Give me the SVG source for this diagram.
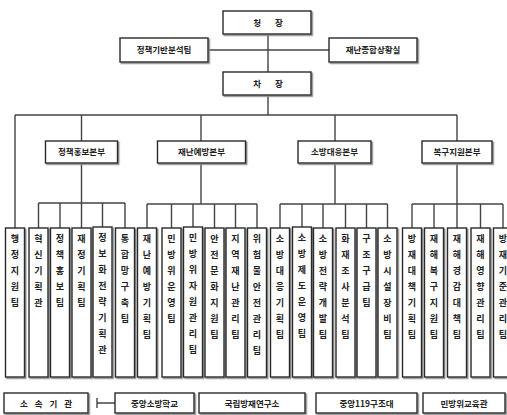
<svg xmlns="http://www.w3.org/2000/svg" width="507" height="415" viewBox="0 0 507 415">
<defs>
<filter id="sh" x="-20%" y="-20%" width="140%" height="140%"><feDropShadow dx="1.3" dy="1.3" stdDeviation="0.4" flood-color="#888"/></filter>
<style>
.b{fill:#fff;stroke:#2a2a2a;stroke-width:1.4;filter:url(#sh)}
.t{font-family:"Noto Sans CJK KR","Noto Sans CJK SC",sans-serif;font-size:8.5px;font-weight:bold;fill:#222;text-anchor:middle}
.v{font-family:"Noto Sans CJK KR","Noto Sans CJK SC",sans-serif;font-size:9px;font-weight:bold;fill:#222;text-anchor:middle}
.c{stroke:#444;stroke-width:1.4;fill:none}
</style>
</defs>
<rect width="507" height="415" fill="#fff"/>
<g id="connectors" class="c">
<path d="M268,34V72M208,50H329M268,95V115M15,115H457M15,115V228M81.5,115V141M201,115V141M335,115V141M457,115V141"/>
<path d="M81.5,163V228M38.5,203H125M38.5,203V228M60,203V228M102.5,203V228M125,203V228"/>
<path d="M201,163V204M147,204H257M147,204V228M171.5,204V228M193,204V228M214.5,204V228M235.5,204V228M257,204V228"/>
<path d="M335,163V204M280,204H387.5M280,204V228M302,204V228M323,204V228M345.5,204V228M366.5,204V228M387.5,204V228"/>
<path d="M457,163V228M412,204H503M412,204V228M434,204V228M480.5,204V228M503,204V228"/>
<path d="M97,403H115M97,398V408"/>
</g>
<g id="chief"><rect class="b" x="223" y="11" width="88" height="23"/><text class="t" x="268" y="26" style="word-spacing:12px">청 장</text></g>
<g id="policy-analysis"><rect class="b" x="120" y="38" width="88" height="24"/><text class="t" x="164" y="53">정책기반분석팀</text></g>
<g id="situation-room"><rect class="b" x="329" y="38" width="88" height="24"/><text class="t" x="373" y="53">재난종합상황실</text></g>
<g id="deputy"><rect class="b" x="223" y="72" width="88" height="23"/><text class="t" x="268" y="87" style="word-spacing:12px">차 장</text></g>
<g id="hq1"><rect class="b" x="45.5" y="141" width="72" height="22"/><text class="t" x="81.5" y="155">정책홍보본부</text></g>
<g id="hq2"><rect class="b" x="157.5" y="141" width="88" height="22"/><text class="t" x="201.5" y="155">재난예방본부</text></g>
<g id="hq3"><rect class="b" x="298" y="141" width="73" height="22"/><text class="t" x="334.5" y="155">소방대응본부</text></g>
<g id="hq4"><rect class="b" x="422" y="141" width="70" height="22"/><text class="t" x="457" y="155">복구지원본부</text></g>
<g id="n0"><rect class="b" x="5.5" y="228" width="19" height="149"/><text class="v"><tspan x="15" y="242">행</tspan><tspan x="15" dy="16">정</tspan><tspan x="15" dy="16">지</tspan><tspan x="15" dy="16">원</tspan><tspan x="15" dy="16">팀</tspan></text></g>
<g id="n1"><rect class="b" x="29" y="228" width="19" height="149"/><text class="v"><tspan x="38.5" y="242">혁</tspan><tspan x="38.5" dy="16">신</tspan><tspan x="38.5" dy="16">기</tspan><tspan x="38.5" dy="16">획</tspan><tspan x="38.5" dy="16">관</tspan></text></g>
<g id="n2"><rect class="b" x="50.5" y="228" width="19" height="149"/><text class="v"><tspan x="60" y="242">정</tspan><tspan x="60" dy="16">책</tspan><tspan x="60" dy="16">홍</tspan><tspan x="60" dy="16">보</tspan><tspan x="60" dy="16">팀</tspan></text></g>
<g id="n3"><rect class="b" x="72" y="228" width="19" height="149"/><text class="v"><tspan x="81.5" y="242">재</tspan><tspan x="81.5" dy="16">정</tspan><tspan x="81.5" dy="16">기</tspan><tspan x="81.5" dy="16">획</tspan><tspan x="81.5" dy="16">팀</tspan></text></g>
<g id="n4"><rect class="b" x="93" y="227" width="19" height="150"/><text class="v"><tspan x="102.5" y="241">정</tspan><tspan x="102.5" dy="16">보</tspan><tspan x="102.5" dy="16">화</tspan><tspan x="102.5" dy="16">전</tspan><tspan x="102.5" dy="16">략</tspan><tspan x="102.5" dy="16">기</tspan><tspan x="102.5" dy="16">획</tspan><tspan x="102.5" dy="16">관</tspan></text></g>
<g id="n5"><rect class="b" x="115.5" y="228" width="19" height="149"/><text class="v"><tspan x="125" y="242">통</tspan><tspan x="125" dy="16">합</tspan><tspan x="125" dy="16">망</tspan><tspan x="125" dy="16">구</tspan><tspan x="125" dy="16">축</tspan><tspan x="125" dy="16">팀</tspan></text></g>
<g id="n6"><rect class="b" x="137.5" y="228" width="19" height="149"/><text class="v"><tspan x="147" y="242">재</tspan><tspan x="147" dy="16">난</tspan><tspan x="147" dy="16">예</tspan><tspan x="147" dy="16">방</tspan><tspan x="147" dy="16">기</tspan><tspan x="147" dy="16">획</tspan><tspan x="147" dy="16">팀</tspan></text></g>
<g id="n7"><rect class="b" x="162" y="228" width="19" height="149"/><text class="v"><tspan x="171.5" y="242">민</tspan><tspan x="171.5" dy="16">방</tspan><tspan x="171.5" dy="16">위</tspan><tspan x="171.5" dy="16">운</tspan><tspan x="171.5" dy="16">영</tspan><tspan x="171.5" dy="16">팀</tspan></text></g>
<g id="n8"><rect class="b" x="183.5" y="227" width="19" height="150"/><text class="v"><tspan x="193" y="241">민</tspan><tspan x="193" dy="16">방</tspan><tspan x="193" dy="16">위</tspan><tspan x="193" dy="16">자</tspan><tspan x="193" dy="16">원</tspan><tspan x="193" dy="16">관</tspan><tspan x="193" dy="16">리</tspan><tspan x="193" dy="16">팀</tspan></text></g>
<g id="n9"><rect class="b" x="205" y="228" width="19" height="149"/><text class="v"><tspan x="214.5" y="242">안</tspan><tspan x="214.5" dy="16">전</tspan><tspan x="214.5" dy="16">문</tspan><tspan x="214.5" dy="16">화</tspan><tspan x="214.5" dy="16">지</tspan><tspan x="214.5" dy="16">원</tspan><tspan x="214.5" dy="16">팀</tspan></text></g>
<g id="n10"><rect class="b" x="226" y="228" width="19" height="149"/><text class="v"><tspan x="235.5" y="242">지</tspan><tspan x="235.5" dy="16">역</tspan><tspan x="235.5" dy="16">재</tspan><tspan x="235.5" dy="16">난</tspan><tspan x="235.5" dy="16">관</tspan><tspan x="235.5" dy="16">리</tspan><tspan x="235.5" dy="16">팀</tspan></text></g>
<g id="n11"><rect class="b" x="247.5" y="228" width="19" height="149"/><text class="v"><tspan x="257" y="242">위</tspan><tspan x="257" dy="16">험</tspan><tspan x="257" dy="16">물</tspan><tspan x="257" dy="16">안</tspan><tspan x="257" dy="16">전</tspan><tspan x="257" dy="16">관</tspan><tspan x="257" dy="16">리</tspan><tspan x="257" dy="16">팀</tspan></text></g>
<g id="n12"><rect class="b" x="270.5" y="228" width="19" height="149"/><text class="v"><tspan x="280" y="242">소</tspan><tspan x="280" dy="16">방</tspan><tspan x="280" dy="16">대</tspan><tspan x="280" dy="16">응</tspan><tspan x="280" dy="16">기</tspan><tspan x="280" dy="16">획</tspan><tspan x="280" dy="16">팀</tspan></text></g>
<g id="n13"><rect class="b" x="292.5" y="227" width="19" height="150"/><text class="v"><tspan x="302" y="241">소</tspan><tspan x="302" dy="16">방</tspan><tspan x="302" dy="16">제</tspan><tspan x="302" dy="16">도</tspan><tspan x="302" dy="16">운</tspan><tspan x="302" dy="16">영</tspan><tspan x="302" dy="16">팀</tspan></text></g>
<g id="n14"><rect class="b" x="313.5" y="228" width="19" height="149"/><text class="v"><tspan x="323" y="242">소</tspan><tspan x="323" dy="16">방</tspan><tspan x="323" dy="16">전</tspan><tspan x="323" dy="16">략</tspan><tspan x="323" dy="16">개</tspan><tspan x="323" dy="16">발</tspan><tspan x="323" dy="16">팀</tspan></text></g>
<g id="n15"><rect class="b" x="336" y="228" width="19" height="149"/><text class="v"><tspan x="345.5" y="242">화</tspan><tspan x="345.5" dy="16">재</tspan><tspan x="345.5" dy="16">조</tspan><tspan x="345.5" dy="16">사</tspan><tspan x="345.5" dy="16">분</tspan><tspan x="345.5" dy="16">석</tspan><tspan x="345.5" dy="16">팀</tspan></text></g>
<g id="n16"><rect class="b" x="357" y="228" width="19" height="149"/><text class="v"><tspan x="366.5" y="242">구</tspan><tspan x="366.5" dy="16">조</tspan><tspan x="366.5" dy="16">구</tspan><tspan x="366.5" dy="16">급</tspan><tspan x="366.5" dy="16">팀</tspan></text></g>
<g id="n17"><rect class="b" x="378" y="228" width="19" height="149"/><text class="v"><tspan x="387.5" y="242">소</tspan><tspan x="387.5" dy="16">방</tspan><tspan x="387.5" dy="16">시</tspan><tspan x="387.5" dy="16">설</tspan><tspan x="387.5" dy="16">장</tspan><tspan x="387.5" dy="16">비</tspan><tspan x="387.5" dy="16">팀</tspan></text></g>
<g id="n18"><rect class="b" x="402.5" y="228" width="19" height="149"/><text class="v"><tspan x="412" y="242">방</tspan><tspan x="412" dy="16">재</tspan><tspan x="412" dy="16">대</tspan><tspan x="412" dy="16">책</tspan><tspan x="412" dy="16">기</tspan><tspan x="412" dy="16">획</tspan><tspan x="412" dy="16">팀</tspan></text></g>
<g id="n19"><rect class="b" x="424.5" y="228" width="19" height="149"/><text class="v"><tspan x="434" y="242">재</tspan><tspan x="434" dy="16">해</tspan><tspan x="434" dy="16">복</tspan><tspan x="434" dy="16">구</tspan><tspan x="434" dy="16">지</tspan><tspan x="434" dy="16">원</tspan><tspan x="434" dy="16">팀</tspan></text></g>
<g id="n20"><rect class="b" x="447.5" y="228" width="19" height="149"/><text class="v"><tspan x="457" y="242">재</tspan><tspan x="457" dy="16">해</tspan><tspan x="457" dy="16">경</tspan><tspan x="457" dy="16">감</tspan><tspan x="457" dy="16">대</tspan><tspan x="457" dy="16">책</tspan><tspan x="457" dy="16">팀</tspan></text></g>
<g id="n21"><rect class="b" x="471" y="228" width="19" height="149"/><text class="v"><tspan x="480.5" y="242">재</tspan><tspan x="480.5" dy="16">해</tspan><tspan x="480.5" dy="16">영</tspan><tspan x="480.5" dy="16">향</tspan><tspan x="480.5" dy="16">관</tspan><tspan x="480.5" dy="16">리</tspan><tspan x="480.5" dy="16">팀</tspan></text></g>
<g id="n22"><rect class="b" x="493.5" y="228" width="19" height="149"/><text class="v"><tspan x="503" y="242">방</tspan><tspan x="503" dy="16">재</tspan><tspan x="503" dy="16">기</tspan><tspan x="503" dy="16">준</tspan><tspan x="503" dy="16">관</tspan><tspan x="503" dy="16">리</tspan><tspan x="503" dy="16">팀</tspan></text></g>
<g id="affiliated"><rect class="b" x="4" y="393" width="84" height="20"/><text class="t" x="46" y="406.5" style="word-spacing:5px">소 속 기 관</text></g>
<g id="fire-school"><rect class="b" x="115" y="393" width="79" height="20"/><text class="t" x="154.5" y="406.5">중앙소방학교</text></g>
<g id="research"><rect class="b" x="199" y="393" width="106" height="20"/><text class="t" x="252" y="406.5">국립방재연구소</text></g>
<g id="rescue"><rect class="b" x="316" y="393" width="101" height="20"/><text class="t" x="366.5" y="406.5">중앙119구조대</text></g>
<g id="civil-defense"><rect class="b" x="423" y="393" width="82" height="20"/><text class="t" x="464" y="406.5">민방위교육관</text></g>
</svg>
